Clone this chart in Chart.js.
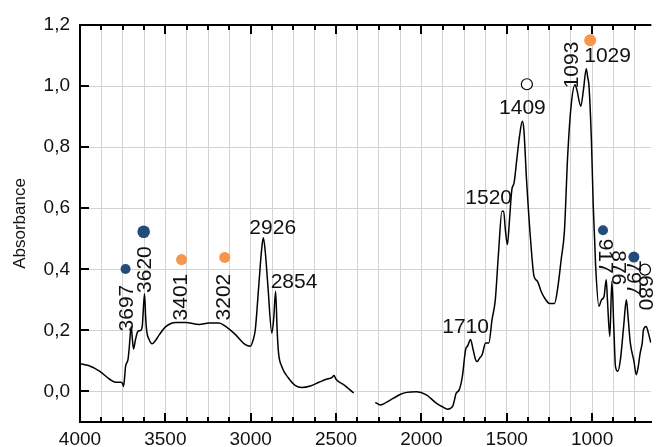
<!DOCTYPE html>
<html>
<head>
<meta charset="utf-8">
<script src="https://cdn.jsdelivr.net/npm/chart.js@4.4.1/dist/chart.umd.min.js"></script>
<style>
  html, body { margin: 0; padding: 0; background: #fff; }
  #wrap { width: 658px; height: 447px; }
</style>
</head>
<body>
<div id="wrap"><canvas id="myChart"></canvas></div>
<script>
// spectrum, first piece (4000 - 2400 cm-1)
var wnA = [4000, 3950, 3884, 3826, 3790, 3760, 3750, 3745, 3738, 3733, 3719, 3712, 3700, 3693, 3686, 3675, 3661, 3645, 3635, 3622,
    3615, 3609, 3595, 3578, 3560, 3535, 3496, 3438, 3380, 3302, 3244, 3186, 3147, 3089, 3031, 3002, 2985, 2973, 2953, 2935,
    2926, 2915, 2899, 2876, 2865, 2854, 2845, 2837, 2818, 2779, 2740, 2700, 2650, 2600, 2557, 2525, 2512, 2500, 2450, 2397];
var absA = [0.091, 0.085, 0.066, 0.040, 0.030, 0.030, 0.025, 0.016, 0.050, 0.082, 0.104, 0.140, 0.213, 0.170, 0.139, 0.170, 0.197, 0.200, 0.215, 0.320,
    0.240, 0.197, 0.170, 0.156, 0.165, 0.186, 0.213, 0.226, 0.226, 0.219, 0.224, 0.224, 0.213, 0.186, 0.153, 0.148, 0.170, 0.202, 0.344, 0.470,
    0.503, 0.460, 0.344, 0.191, 0.240, 0.328, 0.200, 0.127, 0.082, 0.044, 0.020, 0.013, 0.018, 0.030, 0.040, 0.045, 0.052, 0.040, 0.020, -0.005];

// spectrum, second piece (2270 - 650 cm-1)
var wnB = [2270, 2240, 2203, 2163, 2125, 2086, 2028, 1971, 1913, 1877, 1846, 1817, 1807, 1798, 1778, 1760, 1741, 1728, 1712, 1698,
    1683, 1673, 1658, 1644, 1624, 1605, 1586, 1567, 1548, 1528, 1518, 1508, 1496, 1484, 1470, 1457, 1441, 1424, 1409, 1400,
    1384, 1359, 1340, 1320, 1300, 1278, 1249, 1220, 1201, 1181, 1162, 1143, 1123, 1100, 1090, 1066, 1050, 1034, 1026, 1018,
    1004, 993, 985, 979, 960, 945, 930, 917, 910, 896, 884, 872, 863, 849, 834, 815, 799, 790, 776, 755, 741, 730, 718, 706, 699, 683, 670, 656];
var absB = [-0.036, -0.044, -0.035, -0.022, -0.010, -0.003, -0.001, -0.011, -0.038, -0.050, -0.058, -0.049, -0.030, -0.008, 0.006, 0.049, 0.137, 0.150, 0.170, 0.140,
    0.105, 0.098, 0.110, 0.120, 0.159, 0.159, 0.235, 0.300, 0.454, 0.590, 0.590, 0.530, 0.481, 0.560, 0.661, 0.683, 0.760, 0.840, 0.885, 0.860,
    0.694, 0.487, 0.377, 0.361, 0.330, 0.306, 0.288, 0.288, 0.340, 0.432, 0.525, 0.770, 0.934, 1.004, 0.990, 0.934, 0.990, 1.057, 1.030, 1.000,
    0.825, 0.607, 0.497, 0.410, 0.279, 0.300, 0.311, 0.366, 0.300, 0.180, 0.361, 0.200, 0.082, 0.066, 0.104, 0.213, 0.300, 0.250, 0.159, 0.100, 0.055, 0.080, 0.126, 0.160, 0.202, 0.213, 0.191, 0.160];

// axes
var xTicks = [4000, 3875, 3750, 3625, 3500, 3375, 3250, 3125, 3000, 2875, 2750, 2625, 2500, 2375, 2250, 2125,
    2000, 1875, 1750, 1625, 1500, 1375, 1250, 1125, 1000, 875, 750];
var xLabels = [4000, 3500, 3000, 2500, 2000, 1500, 1000];
var yTicks = [0, 0.2, 0.4, 0.6, 0.8, 1.0, 1.2];

// band markers
var blueWn = [3733, 3627, 936, 755];
var blueAbs = [0.401, 0.523, 0.528, 0.440];
var orangeWn = [3405, 3152, 1011];
var orangeAbs = [0.432, 0.439, 1.150];
var openWn = [1382, 690];
var openAbs = [1.006, 0.399];

// peak labels
var peakText = ['3697', '3620', '3401', '3202', '2926', '2854', '1710', '1520', '1409', '1093', '1029', '917', '876', '797', '680'];
var peakWn = [3722, 3616, 3409, 3153, 2871, 2746, 1741, 1606, 1408, 1117, 909, 926, 848, 764, 692];
var peakAbs = [0.273, 0.399, 0.309, 0.309, 0.536, 0.359, 0.210, 0.634, 0.928, 1.069, 1.098, 0.443, 0.405, 0.372, 0.323];
var peakTurn = [-1, -1, -1, -1, 0, 0, 0, 0, 0, -1, 0, 1, 1, 1, 1];

var FONT = "'Liberation Sans', Arial, sans-serif";

function pts(xs, ys) {
    var out = [];
    for (var i = 0; i < xs.length; i++) out.push({ x: xs[i], y: ys[i] });
    return out;
}

var spectrum = pts(wnA, absA).concat([{ x: 2330, y: null }], pts(wnB, absB));

// inward ticks, top frame line and peak labels
var axisDeco = {
    id: 'axisDeco',
    afterDraw: function (chart) {
        var ctx = chart.ctx;
        var a = chart.chartArea;
        var xs = chart.scales.x, ys = chart.scales.y;
        ctx.save();
        ctx.strokeStyle = '#000';
        ctx.lineWidth = 2;
        ctx.beginPath();
        ctx.moveTo(a.left - 1, a.top);
        ctx.lineTo(a.right, a.top);
        xTicks.forEach(function (v) {
            var px = Math.round(xs.getPixelForValue(v));
            var len = xLabels.indexOf(v) >= 0 ? 9 : 5;
            ctx.moveTo(px, a.top);
            ctx.lineTo(px, a.top + len);
            ctx.moveTo(px, a.bottom);
            ctx.lineTo(px, a.bottom - len);
        });
        yTicks.forEach(function (v) {
            var py = Math.round(ys.getPixelForValue(v));
            ctx.moveTo(a.left, py);
            ctx.lineTo(a.left + 9, py);
        });
        ctx.stroke();

        ctx.fillStyle = '#111';
        ctx.font = '21px ' + FONT;
        ctx.textAlign = 'center';
        ctx.textBaseline = 'middle';
        for (var i = 0; i < peakText.length; i++) {
            ctx.save();
            ctx.translate(xs.getPixelForValue(peakWn[i]), ys.getPixelForValue(peakAbs[i]));
            ctx.rotate(peakTurn[i] * Math.PI / 2);
            ctx.fillText(peakText[i], 0, 0);
            ctx.restore();
        }
        ctx.restore();
    }
};

var ctx = document.getElementById('myChart');
var chart = new Chart(ctx, {
    type: 'scatter',
    data: {
        datasets: [
            {
                data: pts(blueWn, blueAbs),
                backgroundColor: '#234b7b',
                borderWidth: 0,
                pointRadius: [5, 6.3, 5, 5.5],
                order: 1
            },
            {
                data: pts(orangeWn, orangeAbs),
                backgroundColor: '#f7964a',
                borderWidth: 0,
                pointRadius: [5.5, 5.5, 6],
                order: 1
            },
            {
                data: pts(openWn, openAbs),
                backgroundColor: '#fff',
                borderColor: '#000',
                borderWidth: 1.2,
                pointRadius: 5.5,
                order: 1
            },
            {
                data: spectrum,
                showLine: true,
                borderColor: '#000',
                borderWidth: 1.5,
                pointRadius: 0,
                spanGaps: false,
                cubicInterpolationMode: 'monotone',
                order: 2
            }
        ]
    },
    options: {
        responsive: true,
        maintainAspectRatio: false,
        animation: false,
        layout: { padding: { top: 25, right: 0, bottom: 0, left: 0 } },
        plugins: { legend: { display: false }, tooltip: { enabled: false } },
        scales: {
            x: {
                type: 'linear',
                reverse: true,
                min: 653,
                max: 4000,
                afterBuildTicks: function (axis) {
                    axis.ticks = xTicks.map(function (v) { return { value: v }; });
                },
                afterFit: function (axis) { axis.height = 25; },
                ticks: {
                    autoSkip: false,
                    maxRotation: 0,
                    padding: 6,
                    color: '#111',
                    font: { size: 19, family: FONT },
                    callback: function (v) { return xLabels.indexOf(v) >= 0 ? String(v) : ''; }
                },
                grid: { color: '#d2d2d2', lineWidth: 1, drawTicks: false },
                border: { color: '#000', width: 2 }
            },
            y: {
                min: -0.1,
                max: 1.2,
                afterBuildTicks: function (axis) {
                    axis.ticks = yTicks.map(function (v) { return { value: v }; });
                },
                afterFit: function (axis) { axis.width = 80; },
                ticks: {
                    padding: 10,
                    color: '#111',
                    font: { size: 19, family: FONT },
                    callback: function (v) { return v.toFixed(1).replace('.', ','); }
                },
                grid: { color: '#d2d2d2', lineWidth: 1, drawTicks: false },
                border: { color: '#000', width: 2 },
                title: {
                    display: true,
                    text: 'Absorbance',
                    color: '#111',
                    padding: { top: 10, bottom: 0 },
                    font: { size: 17, family: FONT }
                }
            }
        }
    },
    plugins: [axisDeco]
});
</script>
</body>
</html>
